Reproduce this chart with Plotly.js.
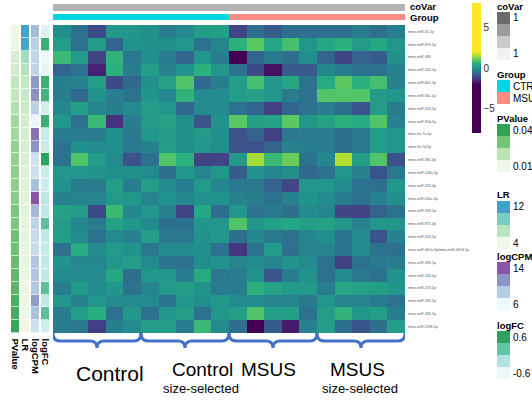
<!DOCTYPE html>
<html><head><meta charset="utf-8">
<script src="https://cdn.plot.ly/plotly-3.0.1.min.js"></script>
<style>html,body{margin:0;padding:0;background:#fff}#chart{width:532px;height:405px}</style>
</head><body><div id="chart"></div>
<script>
// ---------------- DATA ----------------
const mirnas = ['mmu-miR-31-5p','mmu-miR-879-5p','mmu-miR-484','mmu-miR-150-5p','mmu-miR-667-3p','mmu-miR-34c-5p','mmu-miR-423-5p','mmu-miR-30d-5p','mmu-let-7a-5p','mmu-let-7d-5p','mmu-miR-381-3p','mmu-miR-148a-5p','mmu-miR-423-3p','mmu-miR-200c-3p','mmu-miR-193-5p','mmu-miR-871-3p','mmu-miR-324-5p','mmu-miR-467a-5p/mmu-miR-467d-5p','mmu-miR-339-5p','mmu-miR-744-5p','mmu-miR-219-5p','mmu-miR-183-5p','mmu-miR-184-5p','mmu-miR-1198-5p'];
const samples = ['C1','C2','C3','C4','C5','CS1','CS2','CS3','CS4','CS5','M1','M2','M3','M4','M5','MS1','MS2','MS3','MS4','MS5'];
const sampleGroup = ['CTRL','CTRL','CTRL','CTRL','CTRL','CTRL','CTRL','CTRL','CTRL','CTRL','MSUS','MSUS','MSUS','MSUS','MSUS','MSUS','MSUS','MSUS','MSUS','MSUS'];
const coVar = [1,1,1,1,1,1,1,1,1,1,1,1,1,1,1,1,1,1,1,1];
const subGroupMain = ['Control','Control','MSUS','MSUS'];
const subGroupSub = ['','size-selected','','size-selected'];
const heatValues = [
 [0,-0.5,-1.1,0.1,0.1,0,-0.3,-0.1,0.2,0.25,-1.2,-0.55,-0.85,-0.55,-0.55,-0.5,-0.5,-0.3,-0.55,-0.3],
 [0.2,-0.5,0.15,-0.7,0.05,0,0,0.1,-0.5,-0.2,0.55,1.0,0.4,0.8,0.1,0.4,0.55,0.15,0.4,0.1],
 [0.7,0.15,-1.2,0.6,-0.4,0,-0.35,-0.7,0.1,-0.3,-2.0,-0.7,-0.4,-0.55,0,-0.7,-1.2,-0.75,-0.85,0],
 [-0.7,-0.5,-1.6,0.55,-0.3,0.2,-0.25,0.05,0.55,0.1,-0.5,-1.1,-1.8,-0.85,-0.85,-0.15,-0.35,-0.5,-0.5,-0.25],
 [-0.3,-0.25,0.2,-1.1,-0.65,0,0.3,0.9,-0.65,-0.3,0.2,0.8,0.1,0.4,-0.5,0.45,1.0,0.55,0.8,-0.25],
 [-0.3,-0.65,0.05,-0.3,-0.5,0.1,-0.15,0.6,-0.1,-0.1,0.2,0.3,0.1,-0.35,-0.5,0.9,0.9,0.9,0.15,0.1],
 [-0.15,0.25,-0.2,-0.3,-0.1,0.2,0.1,-0.65,-0.1,-0.1,-0.5,-0.7,-1.25,-0.7,-0.5,-0.3,-0.55,-1.0,0.2,-0.35],
 [0.1,-0.5,0.7,-1.4,-0.3,0.15,0.3,0,-1.0,0.05,1.0,0.25,0.3,1.0,0.1,0.3,0.55,0.45,0.9,-0.25],
 [-0.3,-0.35,-0.35,0,-0.4,0.1,0.15,0,0.15,0,-1.0,-0.75,-1.25,-0.4,-0.35,-0.35,-0.55,-0.4,0.2,0.1],
 [-0.5,0,-0.1,0,-0.4,-0.25,0.2,0,0.1,-0.05,-1.0,-1.0,-0.75,-0.25,-0.3,-0.35,-0.55,-0.4,0.2,0.1],
 [-0.5,0.9,0.2,-0.1,-1.0,-0.5,0.9,0.55,-1.2,-1.2,0.15,1.45,0.7,1.1,-0.5,-0.15,1.55,0.2,0.9,-1.0],
 [0.1,0.1,0.05,0,0,-0.1,-0.55,0.1,-0.2,0.1,-0.85,0.05,-0.2,0,-0.65,-0.5,0.1,-0.25,-1.0,-0.4],
 [0.05,-0.35,-0.35,0.2,-0.3,0.25,-0.1,-0.3,0.15,-0.15,-0.4,-0.4,-0.75,-1.15,0.1,0.1,-0.1,-0.5,-0.55,0.1],
 [-0.25,-0.2,-0.2,0.15,0.1,-0.2,0.05,-0.15,0.05,0.05,-0.25,-0.3,-0.5,-0.25,0.05,-0.1,-0.35,-0.5,-0.25,0],
 [0.3,0.15,-1.1,0.7,-0.15,0.1,-0.25,-1.2,0.4,-0.55,0.1,-0.5,-0.4,-0.55,-0.1,-0.15,-1.2,-1.2,-0.75,-0.5],
 [0.2,-0.15,-0.35,0.3,0.1,-0.1,-0.55,-0.5,0.1,0.1,0.9,0.1,0.25,0.4,0.2,0.3,0.1,-0.25,0.1,0.1],
 [0.25,-0.1,-0.5,-0.1,-0.25,0.2,-0.4,-0.4,0.05,0.1,-0.55,-0.15,-0.4,-0.5,-0.2,0,-0.5,-0.1,-1.0,-0.25],
 [-0.5,0.5,-0.1,0.15,0.05,-0.4,-0.1,-0.1,0,-0.5,-1.35,-0.5,0.15,-0.55,-0.2,-0.2,-0.5,-0.1,-0.5,-0.55],
 [0.05,-0.15,-0.15,0.1,0.2,-0.1,-0.5,-0.5,-0.05,0.05,-0.2,-0.1,-0.2,0.05,-0.1,-0.5,-1.25,-0.5,-0.4,-0.35],
 [-0.1,-0.1,-0.1,0.4,-0.55,0.1,0.1,-0.35,0.45,-0.4,-0.35,0.05,-0.95,-0.35,0.05,-0.5,-0.1,-0.4,-0.5,0.05],
 [-0.3,0.15,-0.1,0.1,-0.5,-0.2,0.15,0.2,0.05,-0.35,-0.35,0.55,0.3,0.15,0.15,-0.3,0.4,0.3,0.25,0.1],
 [0.1,-0.25,0.1,-0.1,-0.1,-0.1,-0.5,0.1,-0.05,0.1,-0.1,-0.1,-0.2,-0.2,-0.4,0.1,-0.2,-0.2,-0.35,-0.5],
 [-0.35,0.2,0.5,-0.5,0.1,-0.5,0.1,0.25,-0.5,0.1,0.25,0.9,0.25,0.25,-0.5,0.2,0.6,0.1,0.25,-0.3],
 [-0.3,-0.4,-1.25,-0.3,-0.1,0.25,0.25,-0.35,0.7,-0.1,-0.55,-2.0,-0.85,-1.7,-0.25,0.2,-0.55,-0.95,-0.55,0.2]
];
const pValue = [0.0100,0.0105,0.0145,0.0155,0.018,0.018,0.021,0.0235,0.0235,0.0255,0.0255,0.0265,0.0265,0.027,0.029,0.029,0.031,0.031,0.032,0.033,0.034,0.036,0.037,0.039];
const lr = [12,11.8,7.6,6.9,6.2,6.0,5.9,5.5,5.4,5.3,5.2,5.0,4.9,4.8,4.7,4.6,4.5,4.5,4.4,4.3,4.2,4.2,4.1,4.0];
const logCPM = [9.6,8.4,8.0,8.2,11.2,11.6,8.4,6.2,12.8,11.4,7.4,7.4,9.4,14,9.6,8.2,7.8,7.8,8.9,8.9,8.9,11,9.2,7.4];
const logFC = [-0.48,0.48,-0.6,-0.55,0.47,0.42,-0.44,0.47,-0.36,-0.36,0.6,-0.38,-0.38,-0.28,-0.33,0.25,-0.33,-0.33,-0.33,-0.33,0.25,-0.33,0.25,-0.4];
const annoNames = ['PValue','LR','logCPM','logFC'];
const annoRanges = [[0.01,0.04],[4,12],[6,14],[-0.6,0.6]];
const annoColors = [
 ['#edf8e9','#bae4b3','#74c476','#31a354'],
 ['#f0f9e8','#bae4bc','#7bccc4','#43a2ca'],
 ['#edf8fb','#b3cde3','#8c96c6','#8856a7'],
 ['#edf8fb','#b2e2e2','#66c2a4','#2ca25f']
];
const annoTickLabels = [['0.04','0.01'],['12','4'],['14','6'],['0.6','-0.6']];
const coVarColors = ['#6b6b6b','#9c9c9c','#cacaca','#f2f2f2'];
const coVarLabels = ['1','1'];
const groupNames = ['CTRL','MSUS'];
const groupColors = ['#00d7e0','#fa8c83'];
const coVarBarColor = '#b3b3b3';
const viridis = ['#440154','#472c7a','#3b528b','#2c728e','#21908d','#27ad81','#5cc863','#aadc32','#fde725'];
const heatTicks = [-5,0,5];

// ---------------- LAYOUT HELPERS ----------------
const W=532,H=405;
const px = x => x/W, py = y => 1 - y/H;
const FONT = 'Liberation Sans, Arial, sans-serif';
const nR = mirnas.length, nC = samples.length;
const rowIdx = mirnas.map((_,i)=>i);
const colIdx = samples.map((_,i)=>i);

const zmin=-8, zmax=8;
const cs = [[0,viridis[0]]];
viridis.forEach((c,i)=>{ cs.push([( (-2 + 4*i/(viridis.length-1)) - zmin)/(zmax-zmin), c]); });
cs.push([1,viridis[viridis.length-1]]);

const traces = [];
traces.push({
  type:'heatmap', x:colIdx, y:rowIdx, z:heatValues, xaxis:'x', yaxis:'y',
  zmin:zmin, zmax:zmax, colorscale:cs, hoverinfo:'skip',
  colorbar:{x:px(472), xanchor:'left', y:py(3), yanchor:'top', len:130, lenmode:'pixels',
    thickness:9, thicknessmode:'pixels', outlinewidth:0, tickvals:heatTicks, ticks:'',
    tickfont:{size:10,color:'#333',family:FONT}, xpad:0, ypad:0}
});
const groupCode = sampleGroup.map(g=>groupNames.indexOf(g)+1);
traces.push({
  type:'heatmap', x:colIdx, y:[0,1], z:[coVar.map(()=>0), groupCode], xaxis:'x', yaxis:'y2',
  zmin:0, zmax:2, showscale:false, ygap:3, hoverinfo:'skip',
  colorscale:[[0,coVarBarColor],[0.25,coVarBarColor],[0.25,groupColors[0]],[0.75,groupColors[0]],[0.75,groupColors[1]],[1,groupColors[1]]]
});
const annoData=[pValue,lr,logCPM,logFC];
annoData.forEach((vals,k)=>{
  const cols=annoColors[k];
  traces.push({
    type:'heatmap', x0:k, dx:1, y:rowIdx, z:vals.map(v=>[v]), xaxis:'x2', yaxis:'y',
    zmin:annoRanges[k][0], zmax:annoRanges[k][1], showscale:false, xgap:2, ygap:0.6, hoverinfo:'skip',
    colorscale:cols.map((c,i)=>[i/(cols.length-1),c])
  });
});

const shapes=[], annotations=[];
const braceY1=py(333), braceY2=py(341), braceY3=py(348);
const mainY=[373,369,369,369];
const mainX=[110,202,268,357];
const mainSize=[21,19,19,19];
const subX=[0,201,0,360];
for(let g=0; g<4; g++){
  const a=-0.5+5*g, b=4.5+5*g, m=(a+b)/2;
  shapes.push({type:'path', xref:'x', yref:'paper', line:{color:'#4472c4', width:3},
    path:`M ${a},${braceY1} Q ${a},${braceY2} ${a+0.4},${braceY2} L ${m-0.4},${braceY2} Q ${m},${braceY2} ${m},${braceY3} Q ${m},${braceY2} ${m+0.4},${braceY2} L ${b-0.4},${braceY2} Q ${b},${braceY2} ${b},${braceY1}`});
  annotations.push({xref:'paper', yref:'paper', x:px(mainX[g]), y:py(mainY[g]), yanchor:'middle', xanchor:'center', showarrow:false,
    text:subGroupMain[g], font:{size:mainSize[g],color:'#000',family:FONT}});
  if(subGroupSub[g]) annotations.push({xref:'paper', yref:'paper', x:px(subX[g]), y:py(388), yanchor:'middle', xanchor:'center', showarrow:false,
    text:subGroupSub[g], font:{size:13,color:'#000',family:FONT}});
}
annotations.push({xref:'paper',yref:'paper',x:px(408),y:py(7),xanchor:'left',yanchor:'middle',showarrow:false,text:'<b>coVar</b>',font:{size:9.5,color:'#000',family:FONT}});
annotations.push({xref:'paper',yref:'paper',x:px(408),y:py(18),xanchor:'left',yanchor:'middle',showarrow:false,text:'<b>Group</b>',font:{size:9.5,color:'#000',family:FONT}});
annoNames.forEach((n,k)=>{
  annotations.push({xref:'x2',yref:'paper',x:k,y:py(336),xanchor:'center',yanchor:'top',textangle:90,showarrow:false,
    text:'<b>'+n+'</b>',font:{size:9.5,color:'#000',family:FONT}});
});
const SWX0=497, SWX1=510, SWH=12;
function legendBlock(title, titleY, colors, top, labels){
  annotations.push({xref:'paper',yref:'paper',x:px(SWX0-2),y:py(titleY),xanchor:'left',yanchor:'middle',showarrow:false,text:'<b>'+title+'</b>',font:{size:9.5,color:'#000',family:FONT}});
  colors.forEach((c,i)=>{
    shapes.push({type:'rect',xref:'paper',yref:'paper',x0:px(SWX0),x1:px(SWX1),y0:py(top+i*SWH),y1:py(top+(i+1)*SWH),fillcolor:c,line:{width:0}});
  });
  labels.forEach(l=>{
    annotations.push({xref:'paper',yref:'paper',x:px(SWX1+1),y:py(top+(l.i+0.5)*SWH),xanchor:'left',yanchor:'middle',showarrow:false,text:l.t,font:{size:10,color:'#000',family:FONT}});
  });
}
legendBlock('coVar',6,coVarColors,12,[{i:0,t:coVarLabels[0]},{i:3,t:coVarLabels[1]}]);
legendBlock('Group',75,groupColors,80,[{i:0,t:groupNames[0]},{i:1,t:groupNames[1]}]);
const annoTops=[124,201,262,331], annoTitleY=[118,195,256,325];
annoNames.forEach((n,k)=>{
  legendBlock(n, annoTitleY[k], annoColors[k].slice().reverse(), annoTops[k], [{i:0,t:annoTickLabels[k][0]},{i:3,t:annoTickLabels[k][1]}]);
});

const layout = {
  width:W, height:H, margin:{l:0,r:0,t:0,b:0}, paper_bgcolor:'#fff', plot_bgcolor:'#fff',
  showlegend:false, font:{family:FONT},
  xaxis:{domain:[px(53),px(405)], range:[-0.5,nC-0.5], showticklabels:false, showgrid:false, zeroline:false, ticks:'', fixedrange:true},
  yaxis:{domain:[py(333),py(25)], range:[nR-0.5,-0.5], side:'right', tickvals:rowIdx, ticktext:mirnas, ticks:'', showgrid:false, zeroline:false,
    tickfont:{size:3.6,color:'#555',family:FONT}, ticklabelstandoff:2},
  yaxis2:{domain:[py(22),py(3)], range:[1.5,-0.5], showticklabels:false, showgrid:false, zeroline:false, ticks:''},
  xaxis2:{domain:[px(10),px(50)], range:[-0.5,3.5], showticklabels:false, showgrid:false, zeroline:false, ticks:'', anchor:'y'},
  shapes:shapes, annotations:annotations
};
Plotly.newPlot('chart', traces, layout, {staticPlot:true, displayModeBar:false});
</script></body></html>
